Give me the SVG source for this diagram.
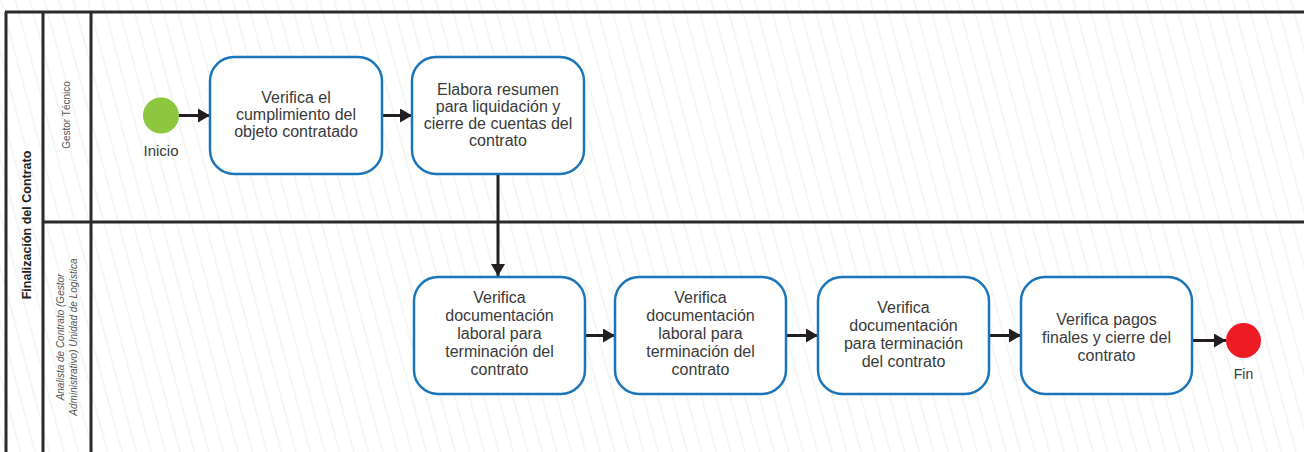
<svg xmlns="http://www.w3.org/2000/svg" width="1304" height="452" viewBox="0 0 1304 452">
<defs>
<pattern id="hatch" width="14" height="40" patternUnits="userSpaceOnUse" patternTransform="rotate(-15)">
<line x1="0" y1="0" x2="0" y2="40" stroke="#f3f3f3" stroke-width="3"/>
</pattern>
<marker id="arr" viewBox="0 0 12 14" refX="12" refY="7" markerWidth="12" markerHeight="14" markerUnits="userSpaceOnUse" orient="auto">
<path d="M0,0 L12,7 L0,14 Z" fill="#231f20"/>
</marker>
<style>
.frame{stroke:#2b2b2b;stroke-width:3;fill:none}
.task{fill:#ffffff;stroke:#1b75bb;stroke-width:2.5}
.t{font-family:"Liberation Sans",Arial,sans-serif;font-size:16px;fill:#3a3a3a;text-anchor:middle}
.lbl{font-family:"Liberation Sans",Arial,sans-serif;font-size:10px;fill:#555555;text-anchor:middle}
.pool{font-family:"Liberation Sans",Arial,sans-serif;font-size:12.5px;font-weight:bold;fill:#222222;text-anchor:middle}
.conn{stroke:#231f20;stroke-width:3;fill:none}
</style>
</defs>
<rect width="1304" height="452" fill="#ffffff"/>
<rect width="1304" height="452" fill="url(#hatch)"/>

<g id="pool">
<line class="frame" x1="5" y1="12" x2="1304" y2="12"/>
<line class="frame" x1="6" y1="12" x2="6" y2="452"/>
<line class="frame" x1="43" y1="12" x2="43" y2="452"/>
<line class="frame" x1="91" y1="12" x2="91" y2="452"/>
<line class="frame" x1="43" y1="222" x2="1304" y2="222"/>
<text class="pool" transform="translate(31,225) rotate(-90)">Finalización del Contrato</text>
</g>

<g id="lane-gestor">
<text class="lbl" transform="translate(70,115) rotate(-90)">Gestor Técnico</text>
</g>
<g id="lane-analista">
<text class="lbl" font-style="italic" transform="translate(64,337) rotate(-90)">Analista de Contrato (Gestor</text>
<text class="lbl" font-style="italic" transform="translate(77,337) rotate(-90)">Administrativo) Unidad de Logística</text>
</g>

<g id="connectors">
<line class="conn" x1="179" y1="115.5" x2="210" y2="115.5" marker-end="url(#arr)"/>
<line class="conn" x1="382" y1="115.5" x2="412" y2="115.5" marker-end="url(#arr)"/>
<line class="conn" x1="498" y1="175" x2="498" y2="276" marker-end="url(#arr)"/>
<line class="conn" x1="585" y1="335.5" x2="615" y2="335.5" marker-end="url(#arr)"/>
<line class="conn" x1="786" y1="335.5" x2="818" y2="335.5" marker-end="url(#arr)"/>
<line class="conn" x1="989" y1="335.5" x2="1021" y2="335.5" marker-end="url(#arr)"/>
<line class="conn" x1="1192" y1="340.5" x2="1226" y2="340.5" marker-end="url(#arr)"/>
</g>

<g id="start">
<circle cx="161" cy="115.5" r="18" fill="#8dc63f"/>
<text class="t" x="161" y="156" style="font-size:15px">Inicio</text>
</g>

<g id="task1">
<rect class="task" x="210" y="57" width="172" height="117" rx="24"/>
<text class="t" x="296" y="103">Verifica el</text>
<text class="t" x="296" y="120">cumplimiento del</text>
<text class="t" x="296" y="137">objeto contratado</text>
</g>

<g id="task2">
<rect class="task" x="412" y="57" width="172" height="117" rx="24"/>
<text class="t" x="498" y="95">Elabora resumen</text>
<text class="t" x="498" y="112">para liquidación y</text>
<text class="t" x="498" y="129">cierre de cuentas del</text>
<text class="t" x="498" y="146">contrato</text>
</g>

<g id="task3">
<rect class="task" x="414" y="277" width="171" height="117" rx="24"/>
<text class="t" x="499.5" y="303">Verifica</text>
<text class="t" x="499.5" y="321">documentación</text>
<text class="t" x="499.5" y="339">laboral para</text>
<text class="t" x="499.5" y="357">terminación del</text>
<text class="t" x="499.5" y="375">contrato</text>
</g>

<g id="task4">
<rect class="task" x="615" y="277" width="171" height="117" rx="24"/>
<text class="t" x="700.5" y="303">Verifica</text>
<text class="t" x="700.5" y="321">documentación</text>
<text class="t" x="700.5" y="339">laboral para</text>
<text class="t" x="700.5" y="357">terminación del</text>
<text class="t" x="700.5" y="375">contrato</text>
</g>

<g id="task5">
<rect class="task" x="818" y="277" width="171" height="117" rx="24"/>
<text class="t" x="903.5" y="313">Verifica</text>
<text class="t" x="903.5" y="331">documentación</text>
<text class="t" x="903.5" y="349">para terminación</text>
<text class="t" x="903.5" y="367">del contrato</text>
</g>

<g id="task6">
<rect class="task" x="1021" y="277" width="171" height="117" rx="24"/>
<text class="t" x="1106.5" y="325">Verifica pagos</text>
<text class="t" x="1106.5" y="343">finales y cierre del</text>
<text class="t" x="1106.5" y="361">contrato</text>
</g>

<g id="end">
<circle cx="1243.5" cy="340.5" r="17.5" fill="#ed1c24"/>
<text class="t" x="1243.5" y="379" style="font-size:14px">Fin</text>
</g>
</svg>
